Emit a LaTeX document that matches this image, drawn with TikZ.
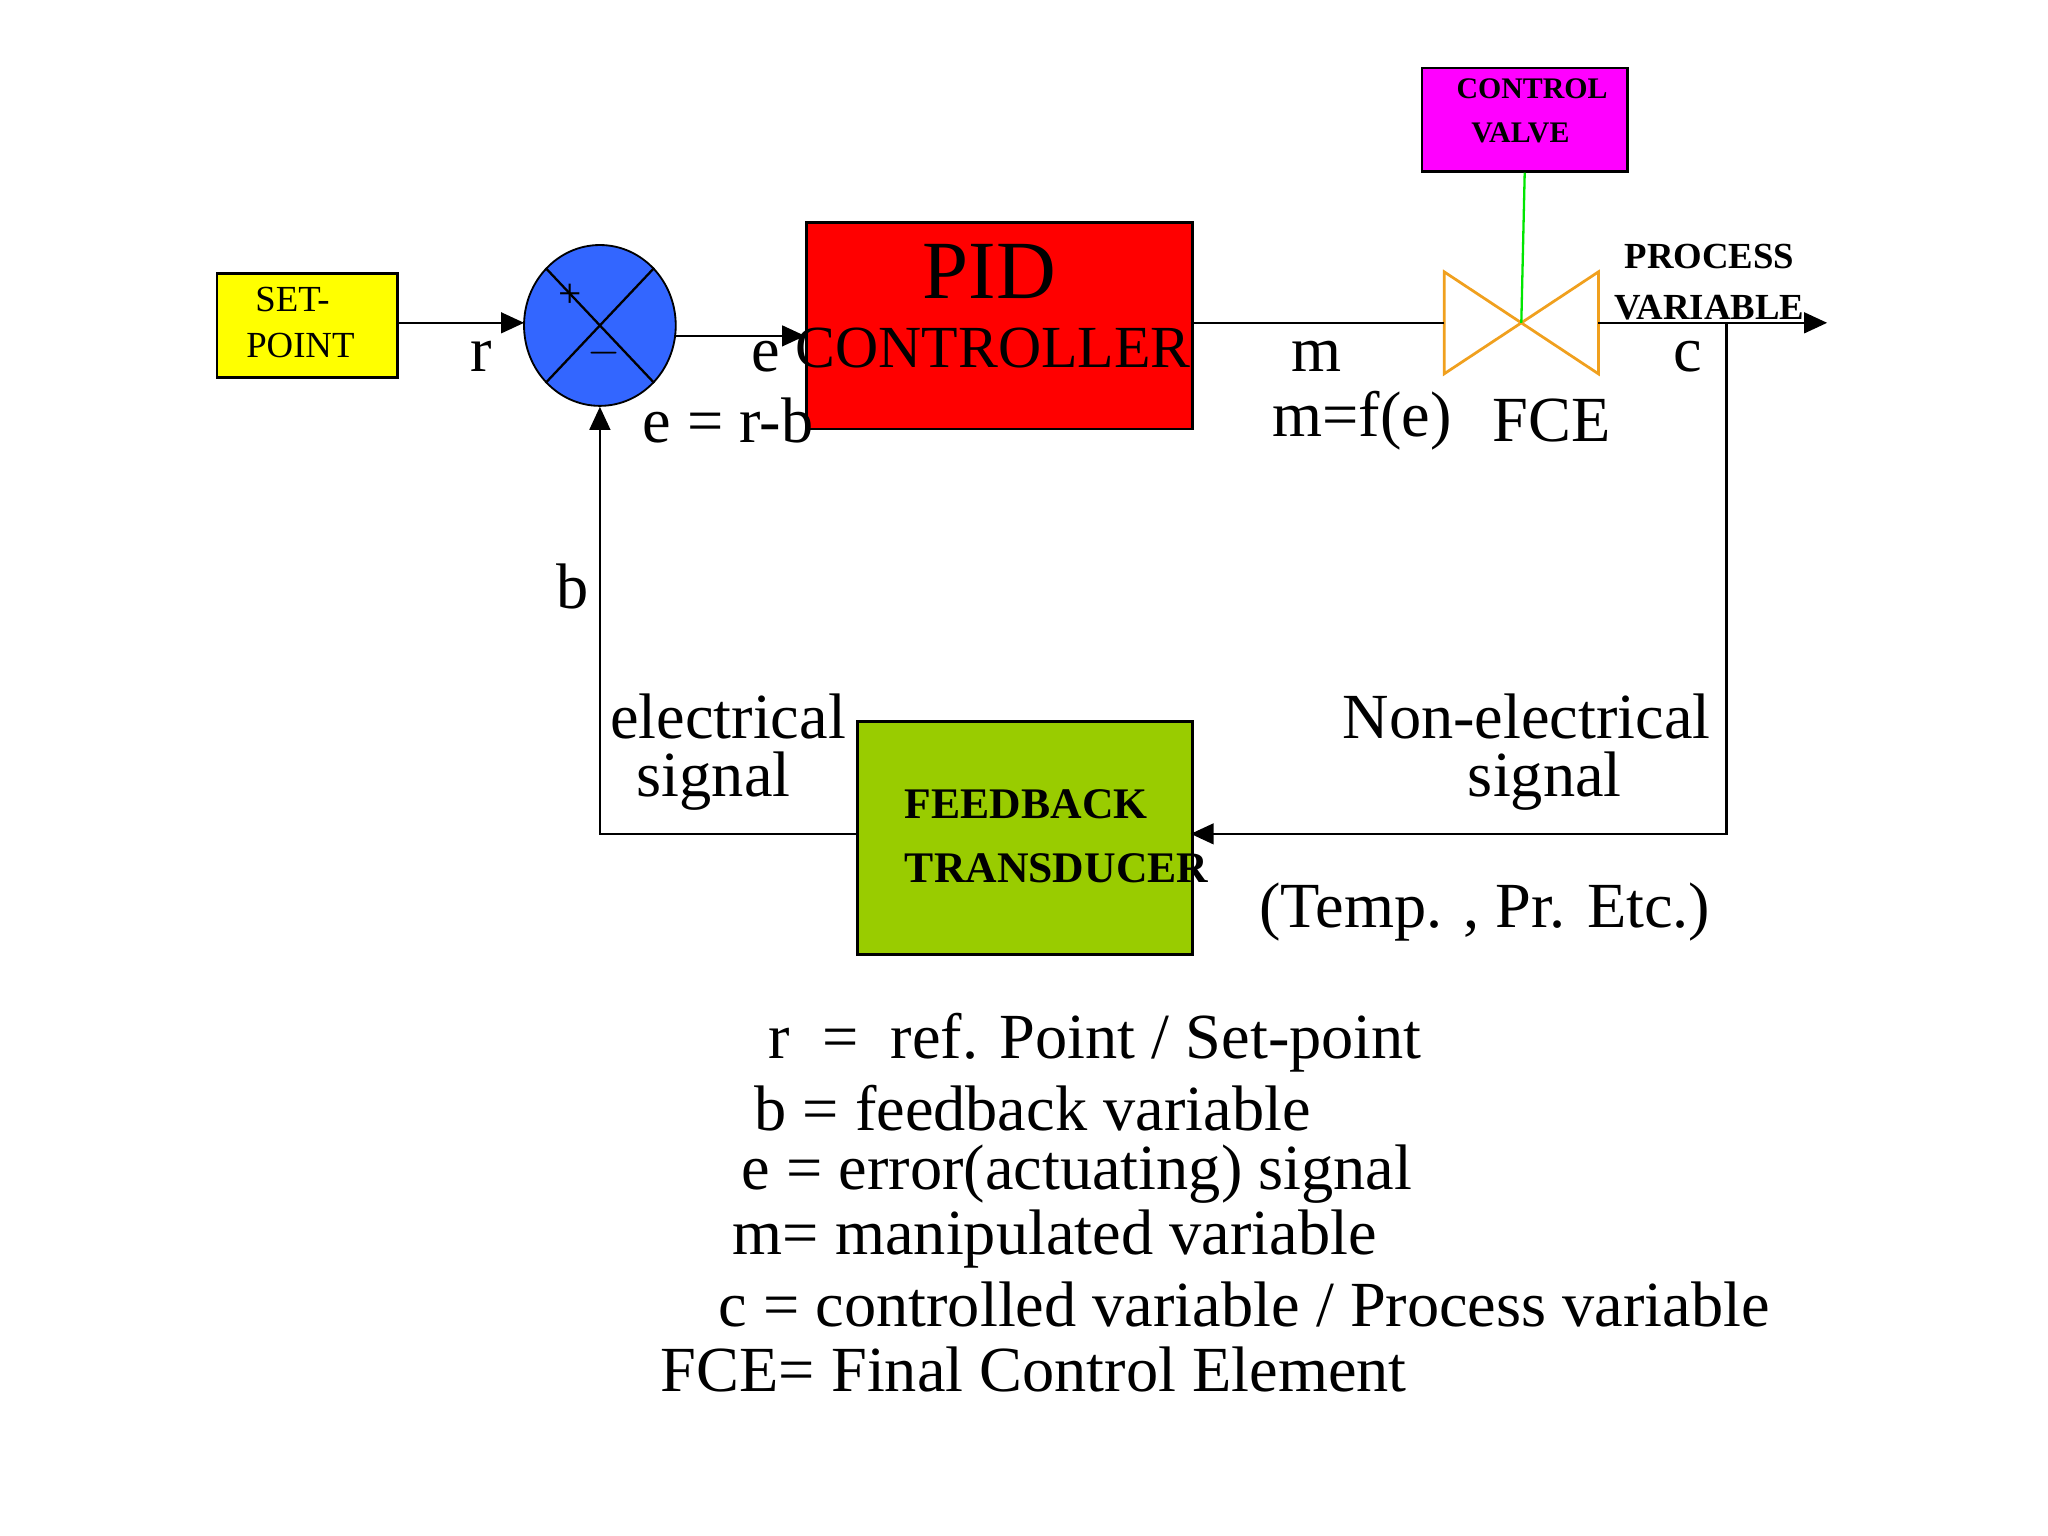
\documentclass[tikz,border=0pt]{standalone}
\usepackage{fontspec}
\setmainfont{Liberation Serif}
\usetikzlibrary{arrows.meta,shapes.geometric}
\begin{document}
\begin{tikzpicture}[x=0.01cm,y=-0.01cm,
  box/.style={draw,line width=0.6pt,inner sep=0pt,anchor=north west},
  lbl/.style={font=\fontsize{14}{16}\selectfont,inner sep=0pt},
  tip/.style={-{Triangle[length=5pt,width=4.5pt]}},
  sig/.style={line width=0.5pt}]
\useasboundingbox (0,0) rectangle (1567,1175);
\definecolor{spyellow}{RGB}{255,255,0}
\definecolor{sumblue}{RGB}{51,102,255}
\definecolor{pidred}{RGB}{255,0,0}
\definecolor{cvmag}{RGB}{255,0,255}
\definecolor{fbgreen}{RGB}{153,204,0}
\definecolor{valveor}{RGB}{240,160,30}
\definecolor{stemgreen}{RGB}{0,230,0}

% blocks
\node[box,fill=spyellow,minimum width=1.38cm,minimum height=0.80cm] (sp) at (165,208) {};
\node[font=\fontsize{8}{10}\selectfont,align=left,anchor=west] at (176,247) {\ SET-\\POINT};
\node[draw,ellipse,fill=sumblue,minimum width=1.16cm,minimum height=1.23cm,inner sep=0pt] (sum) at (459,249) {};
\draw[sig] (sum.north west) -- (sum.south east);
\draw[sig] (sum.north east) -- (sum.south west);
\node[font=\fontsize{9}{10}\selectfont] at (436,226) {+};
\node[font=\fontsize{9}{10}\selectfont] at (462,270) {$-$};
\node[box,fill=pidred,minimum width=2.95cm,minimum height=1.58cm] (pid) at (616,169) {};
\node[font=\fontsize{18}{20}\selectfont] at (757,208) {PID};
\node[font=\fontsize{13}{15}\selectfont] at (760,266) {CONTROLLER};
\node[box,fill=cvmag,minimum width=1.57cm,minimum height=0.79cm] (cv) at (1087,51) {};
\node[font=\bfseries\fontsize{6.5}{9.5}\selectfont,align=left,anchor=west] at (1102,85) {CONTROL\\\ \ VALVE};
\node[box,fill=fbgreen,minimum width=2.56cm,minimum height=1.78cm] (fb) at (655,551) {};
\node[font=\bfseries\fontsize{9.5}{14}\selectfont,align=left,anchor=west] at (680,640) {FEEDBACK\\TRANSDUCER};

% valve
\coordinate (vc) at (1164,247);
\coordinate (vin) at (1105,247);
\coordinate (vout) at (1223,247);
\draw[valveor,line width=0.6pt] (vc) -- (1105,208) -- (1105,286) -- cycle;
\draw[valveor,line width=0.6pt] (vc) -- (1223,208) -- (1223,286) -- cycle;
\draw[stemgreen,line width=0.5pt] (cv.south) -- (vc);

% connectors
\coordinate (spout) at (303,247);
\coordinate (sumin) at (401,247);
\draw[sig,tip] (spout) -- (sumin);
\coordinate (sumout) at (517,257);
\coordinate (pidin) at (616,257);
\draw[sig,tip] (sumout) -- (pidin);
\coordinate (pidout) at (911,247);
\draw[sig] (pidout) -- (vin);
\coordinate (pvend) at (1398,247);
\draw[sig,tip] (vout) -- (pvend);
\coordinate (tap) at (1321,247);
\coordinate (fbin) at (911,638);
\draw[sig,tip] (tap) |- (fbin);
\coordinate (fbout) at (655,638);
\draw[sig,tip] (fbout) -| (sum.south);

% labels
\node[lbl] at (368,273) {r};
\node[lbl] at (586,273) {e};
\node[lbl] at (557,322) {e = r-b};
\node[lbl] at (1007,273) {m};
\node[lbl] at (1042,322) {m=f(e)};
\node[lbl] at (1187,322) {FCE};
\node[lbl] at (1291,273) {c};
\node[font=\bfseries\fontsize{8}{11}\selectfont,align=center] at (1308,216) {PROCESS\\VARIABLE};
\node[lbl] at (438,449) {b};
\node[lbl] at (557,548) {electrical};
\node[lbl] at (546,598) {signal};
\node[lbl] at (1168,548) {Non-electrical};
\node[lbl] at (1182,598) {signal};
\node[lbl] at (1136,698) {(Temp. , Pr. Etc.)};

% legend
\node[lbl] at (838,798) {r \ = \ ref. Point / Set-point};
\node[lbl] at (790,848) {b = feedback variable};
\node[lbl] at (824,898) {e = error(actuating) signal};
\node[lbl] at (807,948) {m= manipulated variable};
\node[lbl] at (952,998) {c = controlled variable / Process variable};
\node[lbl] at (791,1048) {FCE= Final Control Element};
\end{tikzpicture}
\end{document}
